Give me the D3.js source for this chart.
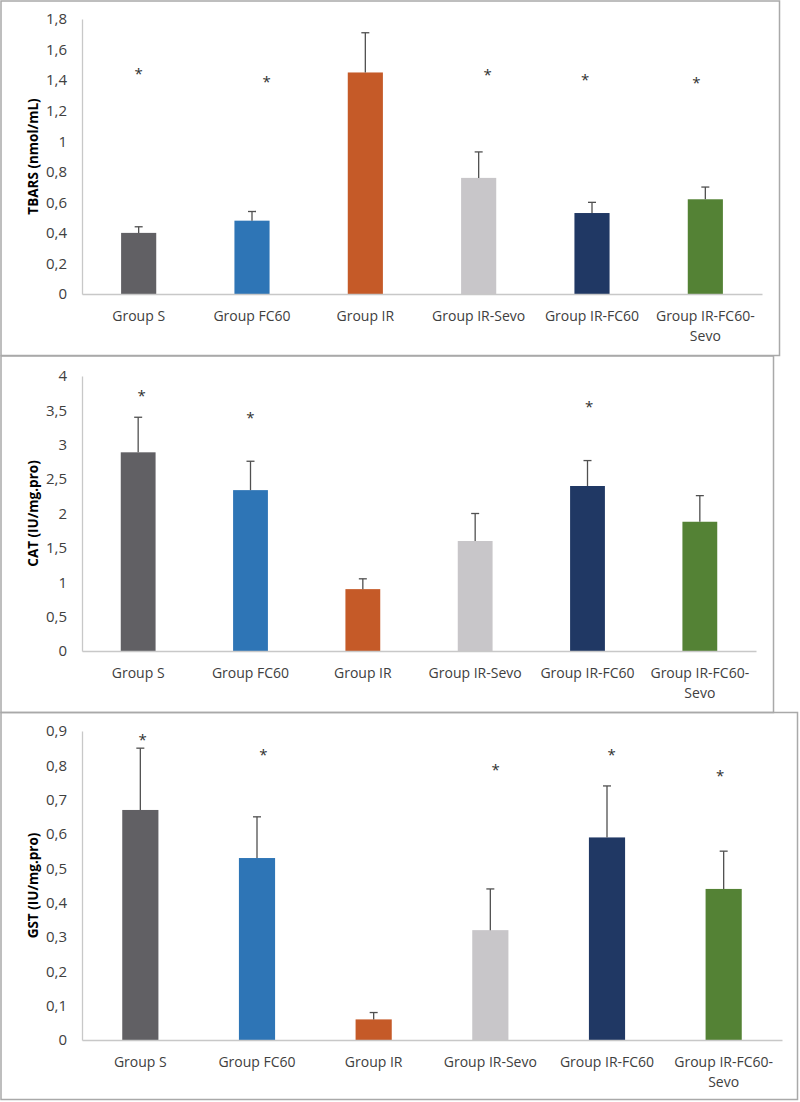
<!DOCTYPE html>
<html>
<head>
<meta charset="utf-8">
<script src="https://cdn.jsdelivr.net/npm/d3@7"></script>
<style>
  html, body { margin: 0; padding: 0; background: #fff; }
  svg { display: block; }
  text { font-family: "Open Sans", sans-serif; }
</style>
</head>
<body>
<svg id="chart" width="800" height="1102"></svg>
<script>
// ---------- DATA ----------
const categories = ["Group S", "Group FC60", "Group IR", "Group IR-Sevo", "Group IR-FC60", "Group IR-FC60-Sevo"];
const barColors = ["#616064", "#2e75b6", "#c55a28", "#c8c6c9", "#203864", "#548235"];

const tbarsMean = [0.40, 0.48, 1.45, 0.76, 0.53, 0.62];
const tbarsSD   = [0.04, 0.06, 0.26, 0.17, 0.07, 0.08];
const tbarsStar = [1.46, 1.41, null, 1.45, 1.42, 1.40];
const tbarsStarShift = [0, 0.13, 0, 0.08, -0.06, -0.08];
const tbarsTicks = [0, 0.2, 0.4, 0.6, 0.8, 1, 1.2, 1.4, 1.6, 1.8];

const catMean = [2.89, 2.34, 0.90, 1.60, 2.40, 1.88];
const catSD   = [0.51, 0.42, 0.15, 0.40, 0.37, 0.38];
const catStar = [3.76, 3.43, null, null, 3.60, null];
const catStarShift = [0.03, 0, 0, 0, 0.015, 0];
const catTicks = [0, 0.5, 1, 1.5, 2, 2.5, 3, 3.5, 4];

const gstMean = [0.67, 0.53, 0.06, 0.32, 0.59, 0.44];
const gstSD   = [0.18, 0.12, 0.02, 0.12, 0.15, 0.11];
const gstStar = [0.883, 0.838, null, 0.794, 0.838, 0.779];
const gstStarShift = [0.02, 0.054, 0, 0.045, 0.04, -0.03];
const gstTicks = [0, 0.1, 0.2, 0.3, 0.4, 0.5, 0.6, 0.7, 0.8, 0.9];

const yTitles = ["TBARS (nmol/mL)", "CAT (IU/mg.pro)", "GST (IU/mg.pro)"];

// ---------- LAYOUT ----------
const panels = [
  { box: [1, 1, 779.5, 355.5], x: [82, 762], y: [294, 19],  mean: tbarsMean, sd: tbarsSD, star: tbarsStar, shift: tbarsStarShift, ticks: tbarsTicks, title: yTitles[0] },
  { box: [1, 356, 773.5, 712.5], x: [82, 756], y: [651, 376], mean: catMean, sd: catSD, star: catStar, shift: catStarShift, ticks: catTicks, title: yTitles[1] },
  { box: [1, 712.5, 797.5, 1099.5], x: [82, 782], y: [1040, 731], mean: gstMean, sd: gstSD, star: gstStar, shift: gstStarShift, ticks: gstTicks, title: yTitles[2] }
];

const locale = d3.formatLocale({ decimal: ",", thousands: ".", grouping: [3], currency: ["", ""] });
const fmt = locale.format(".1~f");

const svg = d3.select("#chart");

function wrapLabel(textSel, maxWidth) {
  textSel.each(function (d) {
    const t = d3.select(this);
    const full = d;
    t.text(full);
    if (this.getComputedTextLength() <= maxWidth) return;
    // try break points (after hyphen or at space), from the last
    const breaks = [];
    for (let i = 0; i < full.length; i++) {
      if (full[i] === "-") breaks.push([i + 1, i + 1]);
      if (full[i] === " ") breaks.push([i, i + 1]);
    }
    const x = t.attr("x");
    for (let k = breaks.length - 1; k >= 0; k--) {
      const first = full.slice(0, breaks[k][0]);
      t.text(first);
      if (this.getComputedTextLength() <= maxWidth) {
        const rest = full.slice(breaks[k][1]);
        t.text(null);
        t.append("tspan").attr("x", x).attr("dy", 0).text(first);
        t.append("tspan").attr("x", x).attr("dy", 20).text(rest);
        return;
      }
    }
    t.text(full);
  });
}

panels.forEach((p) => {
  const g = svg.append("g");

  // panel frame
  g.append("rect")
    .attr("x", p.box[0]).attr("y", p.box[1])
    .attr("width", p.box[2] - p.box[0]).attr("height", p.box[3] - p.box[1])
    .attr("fill", "none").attr("stroke", "#a9a9a9").attr("stroke-width", 1.5);

  const x = d3.scaleBand().domain(categories).range(p.x).paddingInner(0.69).paddingOuter(0.345);
  const y = d3.scaleLinear().domain([p.ticks[0], p.ticks[p.ticks.length - 1]]).range(p.y);

  // y axis
  const yAxis = g.append("g")
    .attr("transform", `translate(${p.x[0]},0)`)
    .call(d3.axisLeft(y).tickValues(p.ticks).tickFormat(fmt).tickSize(0).tickPadding(15));
  yAxis.select(".domain").attr("stroke", "#c8c8c8").attr("stroke-width", 1.3);
  yAxis.selectAll("text")
    .attr("fill", "#404040")
    .style("font-size", "15px")
    .style("font-family", "'Open Sans', sans-serif");

  // bars
  g.selectAll("rect.bar").data(categories).enter().append("rect")
    .attr("class", "bar")
    .attr("x", (d) => x(d))
    .attr("width", x.bandwidth())
    .attr("y", (d, i) => y(p.mean[i]))
    .attr("height", (d, i) => y(0) - y(p.mean[i]))
    .attr("fill", (d, i) => barColors[i]);

  // x axis line
  const xAxis = g.append("g")
    .attr("transform", `translate(0,${p.y[0]})`)
    .call(d3.axisBottom(x).tickSize(0).tickFormat(""));
  xAxis.select(".domain").attr("stroke", "#c8c8c8").attr("stroke-width", 1.3);

  // error bars
  const capHalf = 4;
  categories.forEach((c, i) => {
    const cx = x(c) + x.bandwidth() / 2;
    const yTop = y(p.mean[i] + p.sd[i]);
    const yBase = y(p.mean[i]);
    g.append("line").attr("x1", cx).attr("x2", cx).attr("y1", yBase).attr("y2", yTop)
      .attr("stroke", "#505050").attr("stroke-width", 1.3);
    g.append("line").attr("x1", cx - capHalf).attr("x2", cx + capHalf).attr("y1", yTop).attr("y2", yTop)
      .attr("stroke", "#505050").attr("stroke-width", 1.3);
  });

  // asterisks
  categories.forEach((c, i) => {
    if (p.star[i] == null) return;
    const cx = x(c) + x.bandwidth() / 2 + p.shift[i] * x.step();
    g.append("text")
      .attr("x", cx)
      .attr("y", y(p.star[i]) + 8)
      .attr("text-anchor", "middle")
      .attr("fill", "#303030")
      .style("font-size", "15px")
      .text("*");
  });

  // category labels
  const labels = g.selectAll("text.cat").data(categories).enter().append("text")
    .attr("class", "cat")
    .attr("x", (d) => x(d) + x.bandwidth() / 2)
    .attr("y", p.y[0] + 27)
    .attr("text-anchor", "middle")
    .attr("fill", "#404040")
    .style("font-size", "14px");
  wrapLabel(labels, x.step() - 4);

  // y title
  g.append("text")
    .attr("transform", `translate(38,${(p.y[0] + p.y[1]) / 2}) rotate(-90)`)
    .attr("text-anchor", "middle")
    .attr("fill", "#000")
    .style("font-size", "13.5px")
    .style("font-weight", "bold")
    .text(p.title);
});
</script>
</body>
</html>
